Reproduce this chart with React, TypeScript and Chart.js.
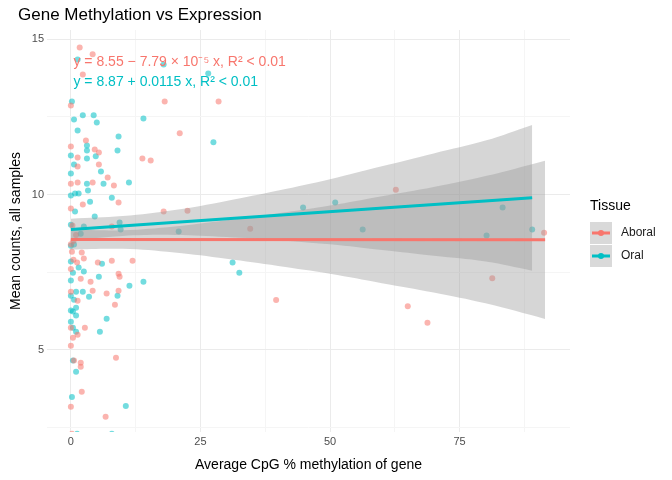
import { Chart, registerables } from "chart.js";
import { useEffect, useRef } from "react";

Chart.register(...registerables);

const tissues = ["Aboral", "Oral"];
const colors = ["#F8766D", "#00BFC4"];

const aboralX = [1.7,4.2,2.3,18.1,28.5,21.0,0,0,2.9,4.6,5.4,1.3,5.4,1.3,13.8,15.4,7.1,8.3,0,1.3,4.2,2.3,9.2,0,17.9,22.5,7.9,0.2,2.1,2.5,1.2,5.2,7.9,11.9,9.2,9.4,1.9,3.8,4.2,9.2,6.9,0,1.3,8.5,0,2.7,0.4,1.3,0,8.7,0.6,1.9,1.9,2.1,0,6.7,0.2,39.6,62.7,65,68.8,81.3,91.3,34.6,0,0.5,1,0.3,0,0.5];
const aboralY = [14.74,14.52,13.87,13.0,13.0,11.97,12.87,11.55,11.74,11.45,11.35,11.19,10.97,10.9,11.16,11.1,10.55,10.29,10.35,10.39,10.39,9.68,9.74,9.55,9.45,9.48,8.97,8.16,8.13,7.94,7.81,7.81,7.87,7.87,7.45,7.35,7.29,7.19,6.9,6.9,6.81,6.87,6.58,6.45,5.71,5.71,5.39,5.48,5.13,4.74,4.65,4.58,4.45,3.65,3.16,2.84,2.29,6.6,10.15,6.4,5.87,7.3,8.77,8.9,8.4,8.5,8.7,9.0,7.6,7.9];

const oralX = [0.2,0.6,2.3,4.4,5.0,14.0,1.3,9.2,9.0,3.1,0,3.1,4.8,3.1,0.6,5.8,0,3.1,6.3,11.2,3.3,0.8,1.5,0,7.9,3.7,0.8,27.5,26.5,17.9,1.3,4.6,9.4,0,2.5,9.6,1.9,20.8,0,0.6,0,6.0,1.5,2.5,0.4,5.4,0,14.0,11.3,2.3,1.0,3.5,9.0,0,0.6,1.0,0,0.4,1.0,6.9,0,0.4,1.0,5.6,0.4,1.0,0.2,10.6,1.2,7.9,31.2,32.5,44.8,51,56.3,80.2,83.3,89];
const oralY = [13.0,12.42,12.55,12.55,12.32,12.45,12.06,11.87,11.42,11.58,11.26,11.42,11.23,11.16,10.97,10.74,10.68,10.35,10.35,10.39,10.13,10.03,10.03,9.97,9.9,9.77,9.45,11.68,13.9,14.19,14.35,9.29,9.1,9.03,8.97,8.87,8.74,8.81,8.35,8.39,7.84,7.77,7.65,7.52,7.48,7.35,7.23,7.19,7.06,6.87,6.87,6.71,6.74,6.74,6.61,6.35,6.26,6.23,6.1,6.0,5.9,5.71,5.58,5.58,4.65,4.29,3.48,3.19,2.29,2.29,7.81,7.48,9.58,9.74,8.87,8.68,9.58,8.87];

// fitted lines: intercept, slope, x range
const fitA = { a: 8.55, b: -7.79e-5, max: 91.5 };
const fitO = { a: 8.87, b: 0.0115, max: 89 };

const bandXA = [0, 10, 20, 30, 40, 50, 60, 70, 80, 91.5];
const bandHalfA = [0.32, 0.3, 0.42, 0.62, 0.85, 1.1, 1.4, 1.7, 2.05, 2.55];
const bandXO = [0, 10, 20, 30, 40, 50, 60, 70, 80, 89];
const bandHalfO = [0.35, 0.32, 0.4, 0.58, 0.8, 1.05, 1.35, 1.65, 1.95, 2.35];

const xTicks = [0, 12.5, 25, 37.5, 50, 62.5, 75, 87.5];
const yTicks = [2.5, 5, 7.5, 10, 12.5, 15];

const font = "'Liberation Sans', Arial, sans-serif";

function pts(xs: number[], ys: number[]) {
  return xs.map((x, i) => ({ x, y: ys[i] }));
}
function band(xs: number[], hw: number[], f: { a: number; b: number }, sign: number) {
  return xs.map((x, i) => ({ x, y: f.a + f.b * x + sign * hw[i] }));
}

const overlay = {
  id: "overlay",
  afterDraw(chart: any) {
    const ctx = chart.ctx;
    const xs = chart.scales.x;
    const ys = chart.scales.y;
    ctx.save();
    ctx.textBaseline = "middle";
    ctx.fillStyle = "#000";
    ctx.font = `17px ${font}`;
    ctx.fillText("Gene Methylation vs Expression", 18, 15);
    ctx.font = `14px ${font}`;
    ctx.fillStyle = colors[0];
    const px = xs.getPixelForValue(0.5);
    ctx.fillText("y = 8.55 − 7.79 × 10⁻⁵ x, R² < 0.01", px, 62);
    ctx.fillStyle = colors[1];
    ctx.fillText("y = 8.87 + 0.0115 x, R² < 0.01", px, 82);
    // legend
    ctx.fillStyle = "#000";
    ctx.fillText("Tissue", 590, 206);
    ctx.font = `12px ${font}`;
    tissues.forEach((t, i) => {
      const y = 233 + i * 23;
      ctx.fillStyle = "#d9d9d9";
      ctx.fillRect(590, y - 11, 22, 22);
      ctx.strokeStyle = colors[i];
      ctx.lineWidth = 3;
      ctx.beginPath();
      ctx.moveTo(592, y);
      ctx.lineTo(610, y);
      ctx.stroke();
      ctx.fillStyle = colors[i];
      ctx.beginPath();
      ctx.arc(601, y, 3, 0, Math.PI * 2);
      ctx.fill();
      ctx.fillStyle = "#1a1a1a";
      ctx.fillText(t, 621, y);
    });
    ctx.restore();
  },
};

export default function App() {
  const ref = useRef<HTMLCanvasElement>(null);
  const chartRef = useRef<Chart | null>(null);

  useEffect(() => {
    document.body.style.margin = "0";
    if (chartRef.current) chartRef.current.destroy();
    const bandColor = "rgba(153,153,153,0.4)";
    chartRef.current = new Chart(ref.current!, {
      type: "scatter",
      data: {
        datasets: [
          { data: [{ x: 0, y: fitA.a }, { x: fitA.max, y: fitA.a + fitA.b * fitA.max }], showLine: true, pointRadius: 0, borderColor: colors[0], borderWidth: 3, order: 0 },
          { data: [{ x: 0, y: fitO.a }, { x: fitO.max, y: fitO.a + fitO.b * fitO.max }], showLine: true, pointRadius: 0, borderColor: colors[1], borderWidth: 3, order: 0 },
          { data: pts(aboralX, aboralY), backgroundColor: "rgba(248,118,109,0.55)", borderWidth: 0, pointRadius: 3, order: 3 },
          { data: pts(oralX, oralY), backgroundColor: "rgba(0,191,196,0.55)", borderWidth: 0, pointRadius: 3, order: 3 },
          { data: band(bandXA, bandHalfA, fitA, 1), showLine: true, pointRadius: 0, borderWidth: 0, fill: "+1", backgroundColor: bandColor, tension: 0.4, order: 1 },
          { data: band(bandXA, bandHalfA, fitA, -1), showLine: true, pointRadius: 0, borderWidth: 0, tension: 0.4, order: 1 },
          { data: band(bandXO, bandHalfO, fitO, 1), showLine: true, pointRadius: 0, borderWidth: 0, fill: "+1", backgroundColor: bandColor, tension: 0.4, order: 1 },
          { data: band(bandXO, bandHalfO, fitO, -1), showLine: true, pointRadius: 0, borderWidth: 0, tension: 0.4, order: 1 },
        ],
      },
      options: {
        animation: false,
        responsive: false,
        layout: { padding: { left: 4, right: 102, top: 30, bottom: 6 } },
        plugins: {
          legend: { display: false },
          tooltip: { enabled: false },
        },
        scales: {
          x: {
            type: "linear",
            min: -4.6,
            max: 96.3,
            afterBuildTicks: (s: any) => { s.ticks = xTicks.map((v) => ({ value: v })); },
            ticks: {
              color: "#4d4d4d",
              font: { family: font, size: 11 },
              maxRotation: 0,
              callback: (v: any) => (v % 25 === 0 ? String(v) : ""),
            },
            grid: {
              color: (c: any) => (c.tick && c.tick.value % 25 === 0 ? "#ebebeb" : "#f5f5f5"),
              drawTicks: false,
            },
            border: { display: false },
            title: { display: true, text: "Average CpG % methylation of gene", color: "#000", font: { family: font, size: 14 }, padding: { top: 6, bottom: 0 } },
          },
          y: {
            type: "linear",
            min: 2.35,
            max: 15.3,
            afterBuildTicks: (s: any) => { s.ticks = yTicks.map((v) => ({ value: v })); },
            ticks: {
              color: "#4d4d4d",
              font: { family: font, size: 11 },
              callback: (v: any) => (v % 5 === 0 ? String(v) : ""),
            },
            grid: {
              color: (c: any) => (c.tick && c.tick.value % 5 === 0 ? "#ebebeb" : "#f5f5f5"),
              drawTicks: false,
            },
            border: { display: false },
            title: { display: true, text: "Mean counts, all samples", color: "#000", font: { family: font, size: 14 } },
          },
        },
      },
      plugins: [overlay],
    } as any);
    return () => {
      if (chartRef.current) chartRef.current.destroy();
    };
  }, []);

  return <canvas ref={ref} width={672} height={480} style={{ display: "block" }} />;
}
